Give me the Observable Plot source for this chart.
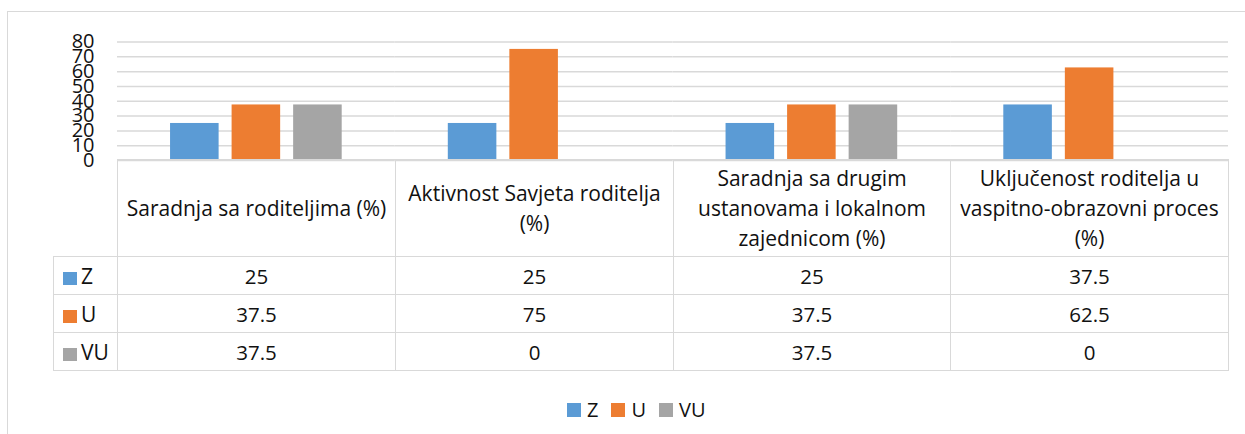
<!DOCTYPE html>
<html><head><meta charset="utf-8">
<script src="https://cdn.jsdelivr.net/npm/d3@7"></script>
<script src="https://cdn.jsdelivr.net/npm/@observablehq/plot@0.6"></script>
<style>
html,body{margin:0;padding:0;background:#fff;overflow:hidden;}
#wrap{position:relative;width:1245px;height:434px;font-family:"Open Sans",sans-serif;color:#111;}
#frame{position:absolute;left:7px;top:11px;width:1300px;height:500px;border:1.5px solid #d9d9d9;}
#chart{position:absolute;left:0;top:0;}
#tbl{position:absolute;left:53px;top:159px;border-collapse:collapse;table-layout:fixed;font-size:21px;line-height:30px;}
#tbl td{border:1.5px solid #d9d9d9;text-align:center;vertical-align:middle;padding:0;white-space:pre-line;}
#tbl td.blank{border:none;}
#tbl td.key{text-align:left;padding-left:9px;}
#tbl .sw{display:inline-block;width:14px;height:13px;margin-right:4px;vertical-align:-1px;}
#tbl td.num{font-size:20.5px;}
#legend{position:absolute;left:567px;top:393px;}
.lg-swatches{font-size:20px !important;font-family:"Open Sans",sans-serif !important;color:#111 !important;margin:0 !important;}
.lg-swatch{margin-right:13px !important;}
.lg-swatch > svg{margin-right:6px !important;}
</style>
</head><body>
<div id="wrap"><div id="frame"></div><div id="chart"></div><table id="tbl"></table><div id="legend"></div></div>
<script>
const categories = [
  "Saradnja sa roditeljima (%)",
  "Aktivnost Savjeta roditelja\n(%)",
  "Saradnja sa drugim\nustanovama i lokalnom\nzajednicom (%)",
  "Uključenost roditelja u\nvaspitno-obrazovni proces\n(%)"
];
const series = ["Z", "U", "VU"];
const colors = ["#5B9BD5", "#ED7D31", "#A5A5A5"];
const valuesZ = [25, 25, 25, 37.5];
const valuesU = [37.5, 75, 37.5, 62.5];
const valuesVU = [37.5, 0, 37.5, 0];
const yTicks = [0, 10, 20, 30, 40, 50, 60, 70, 80];

const valuesBySeries = {Z: valuesZ, U: valuesU, VU: valuesVU};
const data = series.flatMap(s => categories.map((c, i) => ({category: c, series: s, value: valuesBySeries[s][i]})));

const chart = Plot.plot({
  width: 1245, height: 175,
  marginLeft: 117, marginRight: 17, marginTop: 41.5, marginBottom: 15,
  style: {background: "transparent", overflow: "visible", fontFamily: "'Open Sans', sans-serif"},
  fx: {domain: categories, padding: 0, round: false, axis: null},
  x: {domain: series, paddingInner: 0.211, paddingOuter: 0.862, round: false, axis: null},
  y: {domain: [0, 80]},
  color: {domain: series, range: colors},
  marks: [
    Plot.gridY(yTicks, {stroke: "#d9d9d9", strokeOpacity: 1, strokeWidth: 1.5}),
    Plot.barY(data, {fx: "category", x: "series", y: "value", fill: "series"}),
    Plot.axisY(yTicks, {tickSize: 0, tickPadding: 23, fontSize: 20, fill: "#111", label: null})
  ]
});
document.getElementById("chart").appendChild(chart);

// data table
const tbl = document.getElementById("tbl");
const colW = [64, 278, 278, 277, 278];
const cg = document.createElement("colgroup");
colW.forEach(w => { const c = document.createElement("col"); c.style.width = w + "px"; cg.appendChild(c); });
tbl.appendChild(cg);
const hr = tbl.insertRow();
hr.style.height = "97px";
const blank = hr.insertCell(); blank.className = "blank";
categories.forEach(c => { const td = hr.insertCell(); td.textContent = c; });
series.forEach((s, si) => {
  const r = tbl.insertRow();
  r.style.height = "38px";
  const k = r.insertCell(); k.className = "key";
  const sw = document.createElement("span"); sw.className = "sw"; sw.style.background = colors[si];
  k.appendChild(sw); k.appendChild(document.createTextNode(s));
  valuesBySeries[s].forEach(v => { const td = r.insertCell(); td.className = "num"; td.textContent = String(v); });
});

const legend = Plot.legend({color: {domain: series, range: colors}, legend: "swatches", swatchSize: 14, className: "lg"});
document.getElementById("legend").appendChild(legend);
</script>
</body></html>
